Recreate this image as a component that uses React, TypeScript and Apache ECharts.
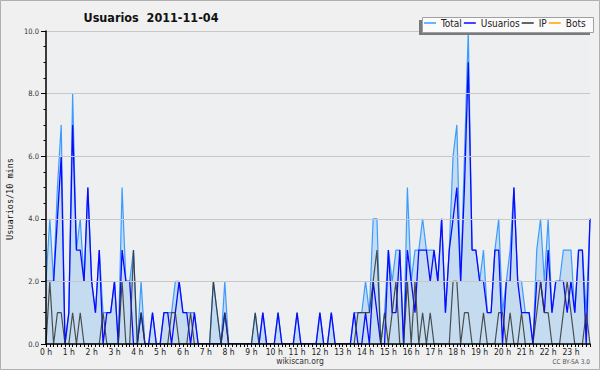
import React, { useEffect, useRef } from "react";
import * as echarts from "echarts";

const hourLabels = ["0 h","1 h","2 h","3 h","4 h","5 h","6 h","7 h","8 h","9 h","10 h","11 h","12 h","13 h","14 h","15 h","16 h","17 h","18 h","19 h","20 h","21 h","22 h","23 h"];
const minuteMarks = ["00", "10", "20", "30", "40", "50"];
const slots = hourLabels.flatMap((_, h) => minuteMarks.map((m) => `${h}:${m}`));

const yTicks = [0, 2, 4, 6, 8, 10];

// 10-minute slots, one row per hour (6 values each)
const total = [
  2, 4, 2, 5, 7, 0,
  1, 8, 3, 4, 2, 5,
  2, 1, 3, 1, 1, 1,
  2, 0, 5, 2, 2, 3,
  0, 2, 0, 0, 1, 0,
  0, 1, 1, 1, 2, 2,
  1, 1, 1, 1, 0, 0,
  0, 0, 2, 1, 0, 2,
  0, 0, 0, 0, 0, 0,
  0, 1, 0, 1, 0, 0,
  0, 1, 0, 0, 0, 0,
  1, 0, 0, 0, 0, 0,
  1, 0, 0, 1, 0, 0,
  0, 0, 0, 1, 1, 1,
  2, 1, 4, 4, 0, 1,
  3, 2, 3, 3, 0, 5,
  2, 3, 3, 4, 3, 3,
  3, 2, 4, 1, 3, 6,
  7, 2, 6, 10, 3, 3,
  2, 3, 1, 1, 3, 4,
  1, 2, 3, 5, 2, 2,
  1, 1, 0, 3, 4, 2,
  4, 1, 2, 2, 3, 3,
  3, 1, 3, 3, 1, 4,
];

const usuarios = [
  2, 2, 2, 4, 6, 0,
  1, 7, 3, 3, 2, 5,
  2, 1, 3, 0, 1, 1,
  2, 0, 3, 2, 2, 0,
  0, 1, 0, 0, 1, 0,
  0, 1, 1, 0, 1, 2,
  1, 1, 0, 1, 0, 0,
  0, 0, 0, 0, 0, 1,
  0, 0, 0, 0, 0, 0,
  0, 0, 0, 1, 0, 0,
  0, 1, 0, 0, 0, 0,
  1, 0, 0, 0, 0, 0,
  1, 0, 0, 1, 0, 0,
  0, 0, 0, 1, 0, 0,
  1, 0, 2, 1, 0, 0,
  3, 1, 1, 3, 0, 3,
  2, 1, 3, 3, 3, 2,
  3, 2, 4, 1, 3, 4,
  5, 2, 5, 9, 3, 3,
  2, 2, 1, 1, 3, 3,
  0, 2, 2, 5, 2, 1,
  1, 1, 0, 2, 2, 1,
  3, 1, 2, 2, 2, 1,
  2, 1, 3, 3, 0, 4,
];

const ip = [
  0, 2, 0, 1, 1, 0,
  0, 1, 0, 1, 0, 0,
  0, 0, 0, 1, 0, 0,
  0, 0, 2, 0, 0, 3,
  0, 1, 0, 0, 0, 0,
  0, 0, 0, 1, 1, 0,
  0, 0, 1, 0, 0, 0,
  0, 0, 2, 1, 0, 1,
  0, 0, 0, 0, 0, 0,
  0, 1, 0, 0, 0, 0,
  0, 0, 0, 0, 0, 0,
  0, 0, 0, 0, 0, 0,
  0, 0, 0, 0, 0, 0,
  0, 0, 0, 0, 1, 1,
  1, 1, 2, 3, 0, 1,
  0, 1, 2, 0, 0, 2,
  0, 2, 0, 1, 0, 1,
  0, 0, 0, 0, 0, 2,
  2, 0, 1, 1, 0, 0,
  0, 1, 0, 0, 0, 1,
  1, 0, 1, 0, 0, 1,
  0, 0, 0, 1, 2, 1,
  1, 0, 0, 0, 1, 2,
  1, 0, 0, 0, 1, 0,
];

const bots = slots.map(() => 0);

const FONT = "'DejaVu Sans Condensed', 'DejaVu Sans', sans-serif";

export default function App() {
  const ref = useRef<HTMLDivElement>(null);
  useEffect(() => {
    if (!ref.current) return;
    const chart = echarts.init(ref.current, null, { renderer: "svg" });
    chart.setOption({
      animation: false,
      backgroundColor: "#f0f0f0",
      grid: {
        left: 46,
        right: 10,
        top: 31,
        bottom: 26,
        show: true,
        backgroundColor: "#eeeff1",
        borderWidth: 0,
      },
      legend: {
        left: 424,
        top: 18,
        z: 20,
        itemWidth: 12,
        itemHeight: 1.5,
        itemGap: 2,
        icon: "rect",
        padding: 0,
        textStyle: { fontSize: 10, fontFamily: FONT, color: "#222", padding: [0, 0, 0, 0] },
        data: ["Total", "Usuarios", "IP", "Bots"],
      },
      graphic: [
        { type: "rect", z: 15, shape: { x: 419, y: 20, width: 171, height: 15 }, style: { fill: "#7a7a7a" } },
        { type: "rect", z: 16, shape: { x: 422.5, y: 17.5, width: 171, height: 15 }, style: { fill: "#fbfbfb", stroke: "#a0a0a0", lineWidth: 1 } },
        {
          type: "text",
          z: 20,
          x: 151,
          y: 17,
          style: {
            text: "Usuarios  2011-11-04",
            font: `bold 12.5px ${FONT}`,
            fill: "#111",
            textAlign: "center",
            textVerticalAlign: "middle",
          },
        },
        {
          type: "text",
          z: 20,
          x: 10,
          y: 199,
          rotation: Math.PI / 2,
          style: {
            text: "Usuarios/10 mins",
            font: "8.5px 'DejaVu Sans Mono', monospace",
            fill: "#111",
            textAlign: "center",
            textVerticalAlign: "middle",
          },
        },
        {
          type: "text",
          z: 20,
          x: 300,
          y: 361,
          style: { text: "wikiscan.org", font: `8.5px ${FONT}`, fill: "#333", textAlign: "center", textVerticalAlign: "middle" },
        },
        {
          type: "text",
          z: 20,
          x: 590,
          y: 362,
          style: { text: "CC BY-SA 3.0", font: `6.5px ${FONT}`, fill: "#555", textAlign: "right", textVerticalAlign: "middle" },
        },
        {
          type: "rect",
          z: 20,
          shape: { x: 0.5, y: 0.5, width: 599, height: 369 },
          style: { fill: "none", stroke: "#b0b0b0", lineWidth: 1 },
        },
      ],
      xAxis: {
        type: "category",
        data: slots,
        boundaryGap: false,
        z: 10,
        axisLine: { lineStyle: { color: "#000", width: 1.5 } },
        axisTick: { show: true, interval: 0, length: 3, lineStyle: { color: "#000" } },
        axisLabel: {
          interval: 5,
          formatter: (_v: string, i: number) => hourLabels[Math.floor(i / 6)],
          fontSize: 8.5,
          fontFamily: FONT,
          color: "#222",
          margin: 3,
        },
        splitLine: { show: false },
      },
      yAxis: {
        type: "value",
        min: yTicks[0],
        max: yTicks[yTicks.length - 1],
        interval: 2,
        z: 10,
        axisLine: { show: true, lineStyle: { color: "#000", width: 1.5 } },
        axisTick: { show: true, length: 5, lineStyle: { color: "#000" } },
        minorTick: { show: true, splitNumber: 4, length: 2.5, lineStyle: { color: "#000" } },
        axisLabel: {
          formatter: (v: number) => v.toFixed(1),
          fontSize: 7.5,
          fontFamily: FONT,
          color: "#333",
          margin: 7,
        },
        splitLine: { show: true, lineStyle: { color: "#c8c8c8", width: 1 } },
      },
      series: [
        {
          name: "Total",
          type: "line",
          data: total,
          symbol: "none",
          z: 2,
          itemStyle: { color: "#3b9cff" },
          lineStyle: { color: "#3b9cff", width: 1.2 },
          areaStyle: { color: "#c5dcf0", opacity: 1 },
        },
        {
          name: "Usuarios",
          type: "line",
          data: usuarios,
          symbol: "none",
          z: 3,
          itemStyle: { color: "#0a0aff" },
          lineStyle: { color: "#0a0aff", width: 1.3 },
        },
        {
          name: "IP",
          type: "line",
          data: ip,
          symbol: "none",
          z: 4,
          itemStyle: { color: "#333333" },
          lineStyle: { color: "#333333", width: 1.2, opacity: 0.85 },
        },
        {
          name: "Bots",
          type: "line",
          data: bots,
          symbol: "none",
          z: 1,
          itemStyle: { color: "#ffa500" },
          lineStyle: { color: "#ffa500", width: 1 },
        },
      ],
    });
    return () => chart.dispose();
  }, []);
  return (
    <div
      ref={ref}
      style={{ position: "fixed", left: 0, top: 0, width: 600, height: 370 }}
    />
  );
}
